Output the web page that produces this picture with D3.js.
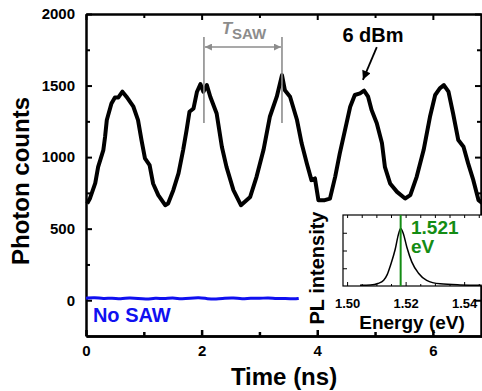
<!DOCTYPE html>
<html>
<head>
<meta charset="utf-8">
<script src="https://cdn.jsdelivr.net/npm/d3@7"></script>
<style>
    body { margin: 0; background: #fff; }
    svg { display: block; font-family: "Liberation Sans", Arial, sans-serif; font-weight: bold; }
    .axis path, .axis line { stroke: #000; }
    .axis text { font-family: "Liberation Sans", Arial, sans-serif; font-weight: bold; fill: #000; }
</style>
</head>
<body>
<svg id="chart" width="482" height="391"></svg>
<script>
"use strict";

// main trace, 6 dBm (time in ns, photon counts)
const saw6dBmTime = [0.02, 0.07, 0.16, 0.21, 0.30, 0.33, 0.36, 0.44, 0.50, 0.56, 0.63, 0.70, 0.82, 0.90, 0.96,
    1.02, 1.10, 1.16, 1.25, 1.37, 1.42, 1.51, 1.60, 1.68, 1.74, 1.79, 1.86, 1.92, 1.98, 2.03, 2.09, 2.15, 2.26,
    2.35, 2.43, 2.55, 2.68, 2.84, 2.95, 3.07, 3.18, 3.30, 3.39, 3.44, 3.53, 3.65, 3.73, 3.82, 3.90, 3.96, 4.02,
    4.13, 4.22, 4.31, 4.39, 4.48, 4.57, 4.65, 4.74, 4.81, 4.88, 4.94, 5.03, 5.12, 5.17, 5.26, 5.38, 5.52, 5.61,
    5.72, 5.84, 5.95, 6.04, 6.12, 6.19, 6.27, 6.35, 6.44, 6.53, 6.61, 6.70, 6.79, 6.85];
const saw6dBmCounts = [676, 713, 818, 932, 1049, 1142, 1259, 1375, 1417, 1417, 1457, 1422, 1352, 1259, 1119,
    991, 944, 816, 734, 664, 676, 769, 886, 1049, 1189, 1317, 1340, 1457, 1510, 1457, 1503, 1422, 1305,
    1072, 932, 769, 664, 722, 862, 1049, 1282, 1422, 1573, 1468, 1422, 1259, 1096, 956, 839, 851, 699,
    699, 710, 862, 1026, 1189, 1352, 1434, 1445, 1464, 1422, 1329, 1236, 1096, 932, 816, 757, 711, 734,
    862, 1049, 1282, 1434, 1480, 1503, 1457, 1305, 1119, 1072, 956, 839, 699, 680];

// reference trace without SAW
const noSawTime = [0, 0.15, 0.3, 0.45, 0.6, 0.75, 0.9, 1.05, 1.2, 1.35, 1.5, 1.65, 1.8, 1.95, 2.1, 2.25, 2.4,
    2.55, 2.7, 2.85, 3.0, 3.15, 3.3, 3.45, 3.6, 3.68];
const noSawCounts = [14, 20, 10, 16, 8, 18, 12, 6, 16, 10, 18, 8, 14, 20, 10, 6, 14, 18, 8, 16, 12, 18, 10, 14,
    8, 12];

// inset PL spectrum
const plEnergy = [1.5044, 1.508, 1.5105, 1.5125, 1.5137, 1.5149, 1.5164, 1.5175, 1.5183, 1.5192, 1.5204,
    1.5221, 1.5244, 1.5272, 1.5318, 1.5386, 1.546];
const plIntensity = [0.01, 0.015, 0.035, 0.08, 0.16, 0.30, 0.51, 0.72, 0.81, 0.74, 0.55, 0.34, 0.18, 0.08,
    0.03, 0.015, 0.01];
const plLineEnergy = 1.5183;
const plLineLabel = ['1.521', 'eV'];

// ticks
const timeTicks = [0, 2, 4, 6];
const timeMinorTicks = [1, 3, 5];
const countTicks = [0, 500, 1000, 1500, 2000];
const countMinorTicks = [250, 750, 1250, 1750];
const energyTicks = [1.50, 1.52, 1.54];
const energyMinorTicks = [1.505, 1.51, 1.515, 1.525, 1.53, 1.535, 1.545];
const intensityTicks = [0.25, 0.5, 0.75];

// annotations: SAW period markers (ns), their extent and arrow level (counts)
const sawPeriodMarks = [2.04, 3.39];
const sawPeriodExtent = [1238, 1840];
const sawPeriodArrowLevel = 1769;
const powerArrow = [[5.03, 1769], [4.79, 1540]];

const svg = d3.select('#chart');

const PLOT = { left: 86, right: 482, top: 14, bottom: 336 };
const INSET = { left: 343, right: 482, top: 215, bottom: 286 };
const GRAY = '#8c8c8c';
const GREEN = '#148c14';

const x = d3.scaleLinear().domain([0, 6.85]).range([PLOT.left, PLOT.right]);
const y = d3.scaleLinear().domain([-250, 2000]).range([PLOT.bottom, PLOT.top]);

// arrow heads
const defs = svg.append('defs');
function addMarker(id, color, w, h) {
    defs.append('marker')
        .attr('id', id)
        .attr('viewBox', '0 0 10 10')
        .attr('refX', 10).attr('refY', 5)
        .attr('markerUnits', 'userSpaceOnUse')
        .attr('markerWidth', w).attr('markerHeight', h)
        .attr('orient', 'auto-start-reverse')
        .append('path').attr('d', 'M0,0 L10,5 L0,10 z').attr('fill', color);
}
addMarker('head-gray', GRAY, 11, 7);
addMarker('head-black', '#000', 11, 9);

/**
 * Draws an axis with inward ticks and sets its line width and label size.
 */
function drawAxis(axis, transform, strokeWidth, fontSize) {
    const g = svg.append('g').attr('class', 'axis').attr('transform', transform).call(axis);
    g.select('.domain').attr('stroke-width', strokeWidth);
    g.selectAll('.tick line').attr('stroke-width', strokeWidth);
    g.selectAll('text').attr('font-size', fontSize);
    return g;
}

const intFormat = d3.format('d');

// main frame: major and minor ticks on all four sides
drawAxis(d3.axisLeft(y).tickValues(countTicks).tickSize(-6).tickPadding(11).tickSizeOuter(0)
    .tickFormat(intFormat), `translate(${PLOT.left},0)`, 2, 15);
drawAxis(d3.axisLeft(y).tickValues(countMinorTicks).tickSize(-4).tickFormat('').tickSizeOuter(0),
    `translate(${PLOT.left},0)`, 2, 15);
drawAxis(d3.axisRight(y).tickValues(countTicks).tickSize(-6).tickFormat('').tickSizeOuter(0),
    `translate(${PLOT.right - 1},0)`, 2, 15);
drawAxis(d3.axisRight(y).tickValues(countMinorTicks).tickSize(-4).tickFormat('').tickSizeOuter(0),
    `translate(${PLOT.right - 1},0)`, 2, 15);
drawAxis(d3.axisBottom(x).tickValues(timeTicks).tickSize(-6).tickPadding(9).tickSizeOuter(0)
    .tickFormat(intFormat), `translate(0,${PLOT.bottom})`, 2.5, 15);
drawAxis(d3.axisBottom(x).tickValues(timeMinorTicks).tickSize(-4).tickFormat('').tickSizeOuter(0),
    `translate(0,${PLOT.bottom})`, 2.5, 15);
drawAxis(d3.axisTop(x).tickValues(timeTicks).tickSize(-6).tickFormat('').tickSizeOuter(0),
    `translate(0,${PLOT.top})`, 2, 15);
drawAxis(d3.axisTop(x).tickValues(timeMinorTicks).tickSize(-4).tickFormat('').tickSizeOuter(0),
    `translate(0,${PLOT.top})`, 2, 15);

// axis titles
svg.append('text')
    .attr('x', (PLOT.left + PLOT.right) / 2).attr('y', 385)
    .attr('text-anchor', 'middle').attr('font-size', 24)
    .text('Time (ns)');
svg.append('text')
    .attr('transform', `translate(29, 181) rotate(-90)`)
    .attr('text-anchor', 'middle').attr('font-size', 24)
    .text('Photon counts');

// traces
const line = d3.line().x(d => x(d[0])).y(d => y(d[1]));
svg.append('path')
    .datum(d3.zip(noSawTime, noSawCounts))
    .attr('d', line.curve(d3.curveBasis))
    .attr('fill', 'none').attr('stroke', '#1010f0').attr('stroke-width', 3);
svg.append('path')
    .datum(d3.zip(saw6dBmTime, saw6dBmCounts))
    .attr('d', line.curve(d3.curveLinear))
    .attr('fill', 'none').attr('stroke', '#000').attr('stroke-width', 4)
    .attr('stroke-linejoin', 'round');

svg.append('text')
    .attr('x', x(0.12)).attr('y', 322)
    .attr('font-size', 20).attr('fill', '#1010f0')
    .text('No SAW');

// SAW period annotation
for (const t of sawPeriodMarks) {
    svg.append('line')
        .attr('x1', x(t)).attr('x2', x(t))
        .attr('y1', y(sawPeriodExtent[1])).attr('y2', y(sawPeriodExtent[0]))
        .attr('stroke', GRAY).attr('stroke-width', 1.6);
}
svg.append('line')
    .attr('x1', x(sawPeriodMarks[0]) + 1).attr('x2', x(sawPeriodMarks[1]) - 1)
    .attr('y1', y(sawPeriodArrowLevel)).attr('y2', y(sawPeriodArrowLevel))
    .attr('stroke', GRAY).attr('stroke-width', 1.6)
    .attr('marker-start', 'url(#head-gray)').attr('marker-end', 'url(#head-gray)');
const tLabel = svg.append('text')
    .attr('x', x(d3.mean(sawPeriodMarks)) + 1).attr('y', 34)
    .attr('text-anchor', 'middle').attr('fill', GRAY);
tLabel.append('tspan').attr('font-size', 17).attr('font-style', 'italic').text('T');
tLabel.append('tspan').attr('font-size', 15).attr('dy', 5).text('SAW');

// power label
svg.append('text')
    .attr('x', 373).attr('y', 42)
    .attr('text-anchor', 'middle').attr('font-size', 20)
    .text('6 dBm');
svg.append('line')
    .attr('x1', x(powerArrow[0][0])).attr('y1', y(powerArrow[0][1]))
    .attr('x2', x(powerArrow[1][0])).attr('y2', y(powerArrow[1][1]))
    .attr('stroke', '#000').attr('stroke-width', 1.8)
    .attr('marker-end', 'url(#head-black)');

// inset
const xi = d3.scaleLinear().domain([1.4986, 1.5461]).range([INSET.left, INSET.right]);
const yi = d3.scaleLinear().domain([0, 1]).range([INSET.bottom, INSET.top]);

svg.append('rect')
    .attr('x', INSET.left).attr('y', INSET.top)
    .attr('width', INSET.right - INSET.left + 5).attr('height', INSET.bottom - INSET.top)
    .attr('fill', '#fff').attr('stroke', '#000').attr('stroke-width', 1.2);

drawAxis(d3.axisBottom(xi).tickValues(energyTicks).tickSize(-4).tickPadding(13).tickSizeOuter(0)
    .tickFormat(d3.format('.2f')), `translate(0,${INSET.bottom})`, 1, 13).select('.domain').remove();
drawAxis(d3.axisBottom(xi).tickValues(energyMinorTicks).tickSize(-2).tickFormat('').tickSizeOuter(0),
    `translate(0,${INSET.bottom})`, 1, 13).select('.domain').remove();
drawAxis(d3.axisTop(xi).tickValues(energyTicks.concat(energyMinorTicks)).tickSize(-3).tickFormat('')
    .tickSizeOuter(0), `translate(0,${INSET.top})`, 1, 13).select('.domain').remove();
drawAxis(d3.axisLeft(yi).tickValues(intensityTicks).tickSize(-4).tickFormat('').tickSizeOuter(0),
    `translate(${INSET.left},0)`, 1, 13).select('.domain').remove();

svg.append('path')
    .datum(d3.zip(plEnergy, plIntensity))
    .attr('d', d3.line().x(d => xi(d[0])).y(d => yi(d[1])).curve(d3.curveMonotoneX))
    .attr('fill', 'none').attr('stroke', '#000').attr('stroke-width', 1.5);

svg.append('line')
    .attr('x1', xi(plLineEnergy)).attr('x2', xi(plLineEnergy))
    .attr('y1', INSET.top).attr('y2', INSET.bottom)
    .attr('stroke', GREEN).attr('stroke-width', 2);
svg.append('text')
    .attr('x', 411).attr('y', 234)
    .attr('font-size', 19).attr('fill', GREEN)
    .selectAll('tspan').data(plLineLabel).join('tspan')
    .attr('x', 411).attr('dy', (d, i) => i === 0 ? 0 : 19)
    .text(d => d);

svg.append('text')
    .attr('x', 412).attr('y', 329)
    .attr('text-anchor', 'middle').attr('font-size', 19)
    .text('Energy (eV)');
svg.append('text')
    .attr('transform', `translate(324, 268) rotate(-90)`)
    .attr('text-anchor', 'middle').attr('font-size', 20)
    .text('PL intensity');
</script>
</body>
</html>
